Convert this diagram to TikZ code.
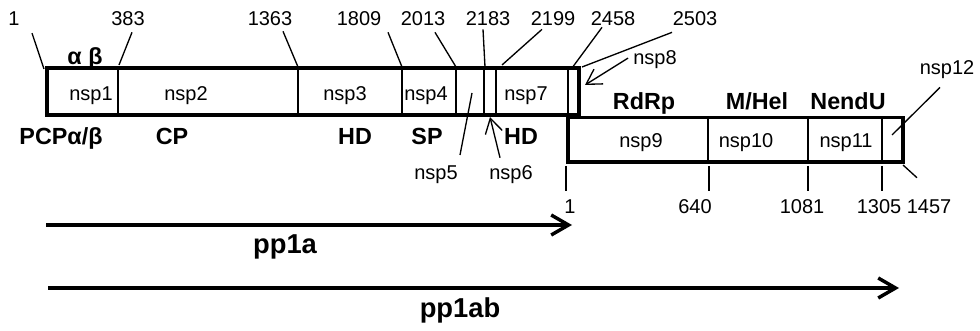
\documentclass[tikz,border=0pt]{standalone}
\usepackage{fontspec}
\setmainfont{Liberation Sans}
\usetikzlibrary{arrows.meta, positioning}

\begin{document}
\begin{tikzpicture}[
  x=0.75pt, y=-0.75pt,
  numlbl/.style={font=\fontsize{15}{18}\selectfont, inner sep=0pt},
  seglbl/.style={font=\fontsize{15}{18}\selectfont, inner sep=0pt, anchor=base},
  domlbl/.style={font=\fontsize{17.5}{21}\selectfont\bfseries, inner sep=0pt, anchor=base},
  polylbl/.style={font=\fontsize{20.5}{24}\selectfont\bfseries, inner sep=0pt, anchor=base},
  boxline/.style={line width=2.7pt},
  cutline/.style={line width=1.2pt},
  leadline/.style={line width=1pt},
  ticksline/.style={leadline, shorten >=6.6pt},
  ptrarrow/.style={line width=1pt, -{Straight Barb[length=11pt,width=13pt]}},
  spanarrow/.style={line width=2.6pt, -{Straight Barb[length=13pt,width=15pt]}},
]
\useasboundingbox (0,0) rectangle (980,331);

%% ── pp1a part: nsp1 ... nsp8 ────────────────────────────────────────────────
\draw[boxline] (47,68) rectangle (579,115);
\foreach \x in {118,298,402,456,484,496,568}
  \draw[cutline] (\x,68) -- (\x,115);

%% ── pp1b part: nsp9 ... nsp12 ───────────────────────────────────────────────
\draw[boxline] (568,117.5) rectangle (903,162);
\foreach \x in {708,808,882}
  \draw[cutline] (\x,117.5) -- (\x,162);

%% ── segment names ───────────────────────────────────────────────────────────
\node[seglbl] (nsp1)  at (91,101)  {nsp1};
\node[seglbl] (nsp2)  at (186,101) {nsp2};
\node[seglbl] (nsp3)  at (345,101) {nsp3};
\node[seglbl] (nsp4)  at (426,101) {nsp4};
\node[seglbl] (nsp7)  at (526,101) {nsp7};
\node[seglbl] (nsp9)  at (641,148) {nsp9};
\node[seglbl] (nsp10) at (746,148) {nsp10};
\node[seglbl] (nsp11) at (846,148) {nsp11};

\node[seglbl] (nsp5)  at (436,180) {nsp5};
\node[seglbl] (nsp6)  at (511,180) {nsp6};
\node[seglbl] (nsp8)  at (655,65)  {nsp8};
\node[seglbl] (nsp12) at (947,75)  {nsp12};

\coordinate (in5)  at (472,93);
\coordinate (in6)  at (490,117);
\coordinate (in8)  at (585,85);
\coordinate (in12) at (892,135);
\draw[leadline] (in5) -- ([shift={(24,-11)}]nsp5.north);
\draw[ptrarrow] ([shift={(-11,-8)}]nsp6.north) -- (in6);
\draw[ptrarrow] ([shift={(-5,-2)}]nsp8.west) -- (in8);
\draw[leadline] ([shift={(-7,8)}]nsp12.south) -- (in12);

%% ── domains ─────────────────────────────────────────────────────────────────
\node[domlbl] (ab)    at (85,65)   {α β};
\node[domlbl] (pcp)   at (61,145)  {PCPα/β};
\node[domlbl] (cp)    at (172,145) {CP};
\node[domlbl] (hd)    at (355,145) {HD};
\node[domlbl] (sp)    at (427,145) {SP};
\node[domlbl] (hdb)   at (521,145) {HD};
\node[domlbl] (rdrp)  at (644,110) {RdRp};
\node[domlbl] (mhel)  at (757,110) {M/Hel};
\node[domlbl] (nendu) at (848,110) {NendU};

%% ── pp1a positions (top) ────────────────────────────────────────────────────
\node[numlbl] (a1)    at (14,19)  {1};
\node[numlbl] (a383)  at (128,19) {383};
\node[numlbl] (a1363) at (270,19) {1363};
\node[numlbl] (a1809) at (359,19) {1809};
\node[numlbl] (a2013) at (423,19) {2013};
\node[numlbl] (a2183) at (488,19) {2183};
\node[numlbl] (a2199) at (553,19) {2199};
\node[numlbl] (a2458) at (613,19) {2458};
\node[numlbl] (a2503) at (695,19) {2503};

\coordinate (e1)    at (44,69);
\coordinate (e383)  at (119,65);
\coordinate (e1363) at (298,67);
\coordinate (e1809) at (402,67);
\coordinate (e2013) at (456,67);
\coordinate (e2183) at (485,67);
\coordinate (e2199) at (502,65);
\coordinate (e2458) at (572,68);
\coordinate (e2503) at (582,67);
\draw[leadline] ([shift={(18,7)}]a1.south)     -- (e1);
\draw[leadline] ([shift={(4,6)}]a383.south)    -- (e383);
\draw[leadline] ([shift={(13,5)}]a1363.south)  -- (e1363);
\draw[leadline] ([shift={(29,6)}]a1809.south)  -- (e1809);
\draw[leadline] ([shift={(12,6)}]a2013.south)  -- (e2013);
\draw[leadline] ([shift={(-5,3)}]a2183.south)  -- (e2183);
\draw[leadline] ([shift={(-11,3)}]a2199.south) -- (e2199);
\draw[leadline] ([shift={(-11,1)}]a2458.south) -- (e2458);
\draw[leadline] ([shift={(-23,6)}]a2503.south) -- (e2503);

%% ── pp1b positions (bottom) ─────────────────────────────────────────────────
\node[numlbl] (b1)    at (570,207) {1};
\node[numlbl] (b640)  at (695,207) {640};
\node[numlbl] (b1081) at (802,207) {1081};
\node[numlbl] (b1305) at (879,207) {1305};
\node[numlbl] (b1457) at (929,207) {1457};

\coordinate (f1)    at (566,166);
\coordinate (f640)  at (709,166);
\coordinate (f1081) at (808,166);
\coordinate (f1305) at (882,166);
\coordinate (f1457) at (903,165);
\draw[ticksline] (f1)    -- (f1 |- b1.north);
\draw[ticksline] (f640)  -- (f640 |- b640.north);
\draw[ticksline] (f1081) -- (f1081 |- b1081.north);
\draw[ticksline] (f1305) -- (f1305 |- b1305.north);
\draw[leadline]  (f1457) -- ([shift={(-12,-22)}]b1457.north);

%% ── polyproteins ────────────────────────────────────────────────────────────
\coordinate (s1a)  at (46,225);
\coordinate (t1a)  at (572,225);
\coordinate (s1ab) at (48,288);
\coordinate (t1ab) at (899,288);
\draw[spanarrow] (s1a)  -- (t1a);
\draw[spanarrow] (s1ab) -- (t1ab);
\node[polylbl] (pp1a)  at (285,253) {pp1a};
\node[polylbl] (pp1ab) at (460,317) {pp1ab};

\end{tikzpicture}
\end{document}
